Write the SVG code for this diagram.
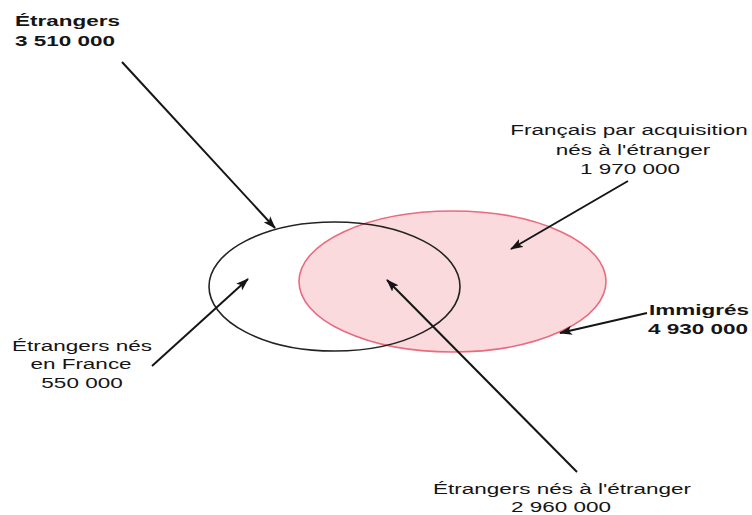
<svg xmlns="http://www.w3.org/2000/svg" width="752" height="515" viewBox="0 0 752 515">
<style>
.t{font-family:"Liberation Sans",Arial,sans-serif;font-size:15px;fill:#151515}
.b{font-weight:bold}
.c{text-anchor:middle}
.arr{stroke:#151515;stroke-width:2;fill:none;marker-end:url(#ah)}
</style>
<defs>
<marker id="ah" markerUnits="userSpaceOnUse" markerWidth="13" markerHeight="9" refX="12" refY="4.5" orient="auto" viewBox="0 0 13 9">
<path d="M0,0 L13,4.5 L0,9 L3,4.5 z" fill="#151515"/>
</marker>
</defs>
<rect width="752" height="515" fill="#ffffff"/>
<g id="immigres">
<ellipse cx="452.5" cy="281.5" rx="153.5" ry="70.5" fill="#fadadd" stroke="#ea6a7e" stroke-width="1.6"/>
</g>
<g id="etrangers">
<ellipse cx="334.5" cy="286.5" rx="125.5" ry="64.5" fill="none" stroke="#222" stroke-width="1.6"/>
</g>
<g id="connectors">
<line class="arr" x1="122" y1="62" x2="275" y2="228"/>
<line class="arr" x1="152" y1="366" x2="248" y2="279"/>
<line class="arr" x1="577" y1="472" x2="387" y2="280"/>
<line class="arr" x1="628" y1="181" x2="511" y2="249"/>
<line class="arr" x1="647" y1="313" x2="560" y2="333"/>
</g>
<g id="label-etrangers">
<text class="t b" transform="translate(15,26) scale(1.5,1)">Étrangers</text>
<text class="t b" transform="translate(15,46) scale(1.5,1)">3 510 000</text>
</g>
<g id="label-francais">
<text class="t c" transform="translate(629,135) scale(1.5,1)">Français par acquisition</text>
<text class="t c" transform="translate(633,155) scale(1.5,1)">nés à l'étranger</text>
<text class="t c" transform="translate(630,174) scale(1.5,1)">1 970 000</text>
</g>
<g id="label-immigres">
<text class="t b" transform="translate(649,315) scale(1.5,1)">Immigrés</text>
<text class="t b" transform="translate(648,334) scale(1.5,1)">4 930 000</text>
</g>
<g id="label-nes-france">
<text class="t c" transform="translate(82,351) scale(1.5,1)">Étrangers nés</text>
<text class="t c" transform="translate(81,369) scale(1.5,1)">en France</text>
<text class="t c" transform="translate(82,388) scale(1.5,1)">550 000</text>
</g>
<g id="label-nes-etranger">
<text class="t c" transform="translate(562,494) scale(1.5,1)">Étrangers nés à l'étranger</text>
<text class="t c" transform="translate(561,512) scale(1.5,1)">2 960 000</text>
</g>
</svg>
